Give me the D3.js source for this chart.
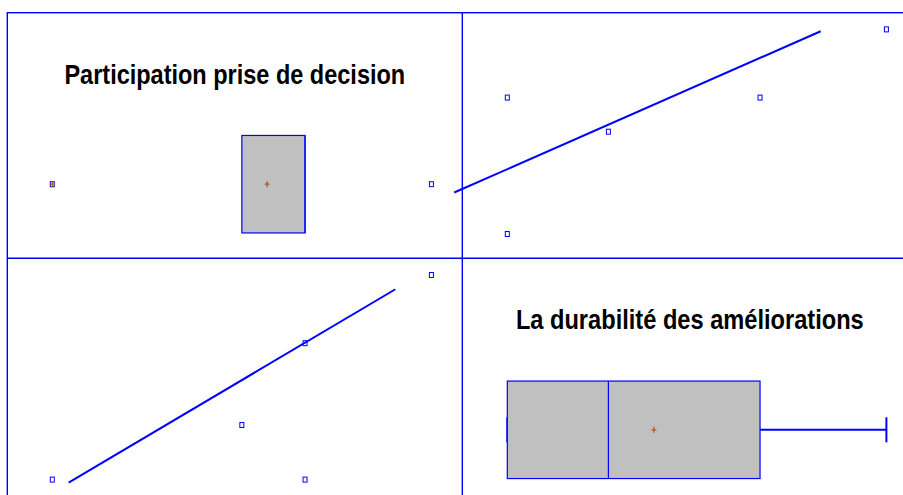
<!DOCTYPE html>
<html>
<head>
<meta charset="utf-8">
<script src="https://cdn.jsdelivr.net/npm/d3@7"></script>
<style>
  html, body { margin: 0; padding: 0; background: #fff; overflow: hidden; }
  svg { display: block; }
</style>
</head>
<body>
<div id="chart"></div>
<script>
(function() {
	'use strict';

	// Data
	const varNames = ['Participation prise de decision', 'La durabilité des améliorations'];
	const participation = [1, 4, 5, 5, 7];
	const durabilite = [1, 1.8, 3, 1, 4];

	// Fitted lines drawn in the off-diagonal panels: [intercept, slope, xFrom, xTo]
	const fitParticipationOnDurabilite = [1.27, 1.631, 0.58, 3.48];
	const fitDurabiliteOnParticipation = [0.267, 0.548, 1.258, 6.43];

	const columns = [participation, durabilite];

	const width = 903;
	const height = 495;
	const blue = '#0000ff';
	const brown = '#b5561c';

	// Panel geometry
	const left = 7.3, top = 12.7;
	const cellW = 455, cellH = 245.6;
	const padLo = 0.1187, padHi = 0.0815;

	const svg = d3.select('#chart')
		.append('svg')
		.attr('width', width)
		.attr('height', height);

	function paddedDomain(values) {
		const ext = d3.extent(values);
		const r = ext[1] - ext[0];
		return [ext[0] - padLo * r, ext[1] + padHi * r];
	}

	function xScale(col, values) {
		const x0 = left + col * cellW;
		return d3.scaleLinear().domain(paddedDomain(values)).range([x0, x0 + cellW]);
	}

	function yScale(row, values) {
		const y0 = top + row * cellH;
		return d3.scaleLinear().domain(paddedDomain(values)).range([y0 + cellH, y0]);
	}

	// Scatter panels
	function scatterPanel(row, col, fit) {
		const xs = columns[col];
		const ys = columns[row];
		const x = xScale(col, xs);
		const y = yScale(row, ys);
		const g = svg.append('g');

		g.append('line')
			.attr('x1', x(fit[2]))
			.attr('y1', y(fit[0] + fit[1] * fit[2]))
			.attr('x2', x(fit[3]))
			.attr('y2', y(fit[0] + fit[1] * fit[3]))
			.attr('stroke', blue)
			.attr('stroke-width', 2);

		g.selectAll('rect')
			.data(d3.range(xs.length))
			.enter().append('rect')
			.attr('x', function(i) { return x(xs[i]) - 2; })
			.attr('y', function(i) { return y(ys[i]) - 2.5; })
			.attr('width', 4)
			.attr('height', 5)
			.attr('fill', 'none')
			.attr('stroke', blue)
			.attr('stroke-width', 1);
	}

	// Box plot panels (diagonal)
	function boxPanel(k) {
		const values = columns[k].slice().sort(d3.ascending);
		const x = xScale(k, values);
		const y0 = top + k * cellH;
		const cy = y0 + 171.5;
		const bh = 97.5;
		const g = svg.append('g');

		const q1 = d3.quantile(values, 0.25);
		const med = d3.quantile(values, 0.5);
		const q3 = d3.quantile(values, 0.75);
		const iqr = q3 - q1;
		const lo = q1 - 1.5 * iqr, hi = q3 + 1.5 * iqr;
		const inside = values.filter(function(v) { return v >= lo && v <= hi; });
		const wLo = d3.min(inside), wHi = d3.max(inside);
		const outliers = values.filter(function(v) { return v < lo || v > hi; });
		const mean = d3.mean(values);

		// title, squeezed horizontally like the reference
		const cx = left + k * cellW + cellW / 2;
		const title = g.append('text')
			.attr('x', 0)
			.attr('y', 0)
			.attr('text-anchor', 'middle')
			.attr('font-family', '"Liberation Sans", Arial, sans-serif')
			.attr('font-weight', 'bold')
			.attr('font-size', 27)
			.attr('fill', '#000')
			.text(varNames[k]);
		const natural = title.node().getComputedTextLength();
		const target = k === 0 ? 341 : 348;
		title.attr('transform', 'translate(' + cx + ',' + (y0 + 71) + ') scale(' + (target / natural) + ',1)');

		// whiskers
		if (wHi > q3 || wLo < q1) {
			g.append('line')
				.attr('x1', x(wLo)).attr('x2', x(q1))
				.attr('y1', cy).attr('y2', cy)
				.attr('stroke', blue).attr('stroke-width', 2);
			g.append('line')
				.attr('x1', x(q3)).attr('x2', x(wHi))
				.attr('y1', cy).attr('y2', cy)
				.attr('stroke', blue).attr('stroke-width', 2);
			[wLo, wHi].forEach(function(v) {
				g.append('line')
					.attr('x1', x(v)).attr('x2', x(v))
					.attr('y1', cy - 12.5).attr('y2', cy + 12.5)
					.attr('stroke', blue).attr('stroke-width', 2);
			});
		}

		// box
		g.append('rect')
			.attr('x', x(q1))
			.attr('y', cy - bh / 2)
			.attr('width', x(q3) - x(q1))
			.attr('height', bh)
			.attr('fill', '#c0c0c0')
			.attr('stroke', blue)
			.attr('stroke-width', 1.2);

		g.append('line')
			.attr('x1', x(med)).attr('x2', x(med))
			.attr('y1', cy - bh / 2).attr('y2', cy + bh / 2)
			.attr('stroke', blue).attr('stroke-width', 1.2);

		// mean marker
		drawPlus(g, x(mean), cy);

		// outliers
		outliers.forEach(function(v, i) {
			g.append('rect')
				.attr('x', x(v) - 2).attr('y', cy - 2.5)
				.attr('width', 4).attr('height', 5)
				.attr('fill', 'none')
				.attr('stroke', blue).attr('stroke-width', 1);
			if (v < lo && i === 0) drawPlus(g, x(v), cy);
		});
	}

	function drawPlus(g, px, py) {
		g.append('path')
			.attr('d', 'M' + (px - 2.5) + ',' + py + 'H' + (px + 2.5) +
				'M' + px + ',' + (py - 3) + 'V' + (py + 3))
			.attr('stroke', brown)
			.attr('stroke-width', 1.3)
			.attr('fill', 'none');
	}

	boxPanel(0);
	boxPanel(1);
	scatterPanel(0, 1, fitParticipationOnDurabilite);
	scatterPanel(1, 0, fitDurabiliteOnParticipation);

	// Panel frame
	const frame = svg.append('g')
		.attr('fill', 'none')
		.attr('stroke', blue)
		.attr('stroke-width', 1.4);

	frame.append('rect')
		.attr('x', left).attr('y', top)
		.attr('width', 2 * cellW).attr('height', 2 * cellH);
	frame.append('line')
		.attr('x1', left + cellW).attr('x2', left + cellW)
		.attr('y1', top).attr('y2', top + 2 * cellH);
	frame.append('line')
		.attr('x1', left).attr('x2', left + 2 * cellW)
		.attr('y1', top + cellH).attr('y2', top + cellH);
})();
</script>
</body>
</html>
